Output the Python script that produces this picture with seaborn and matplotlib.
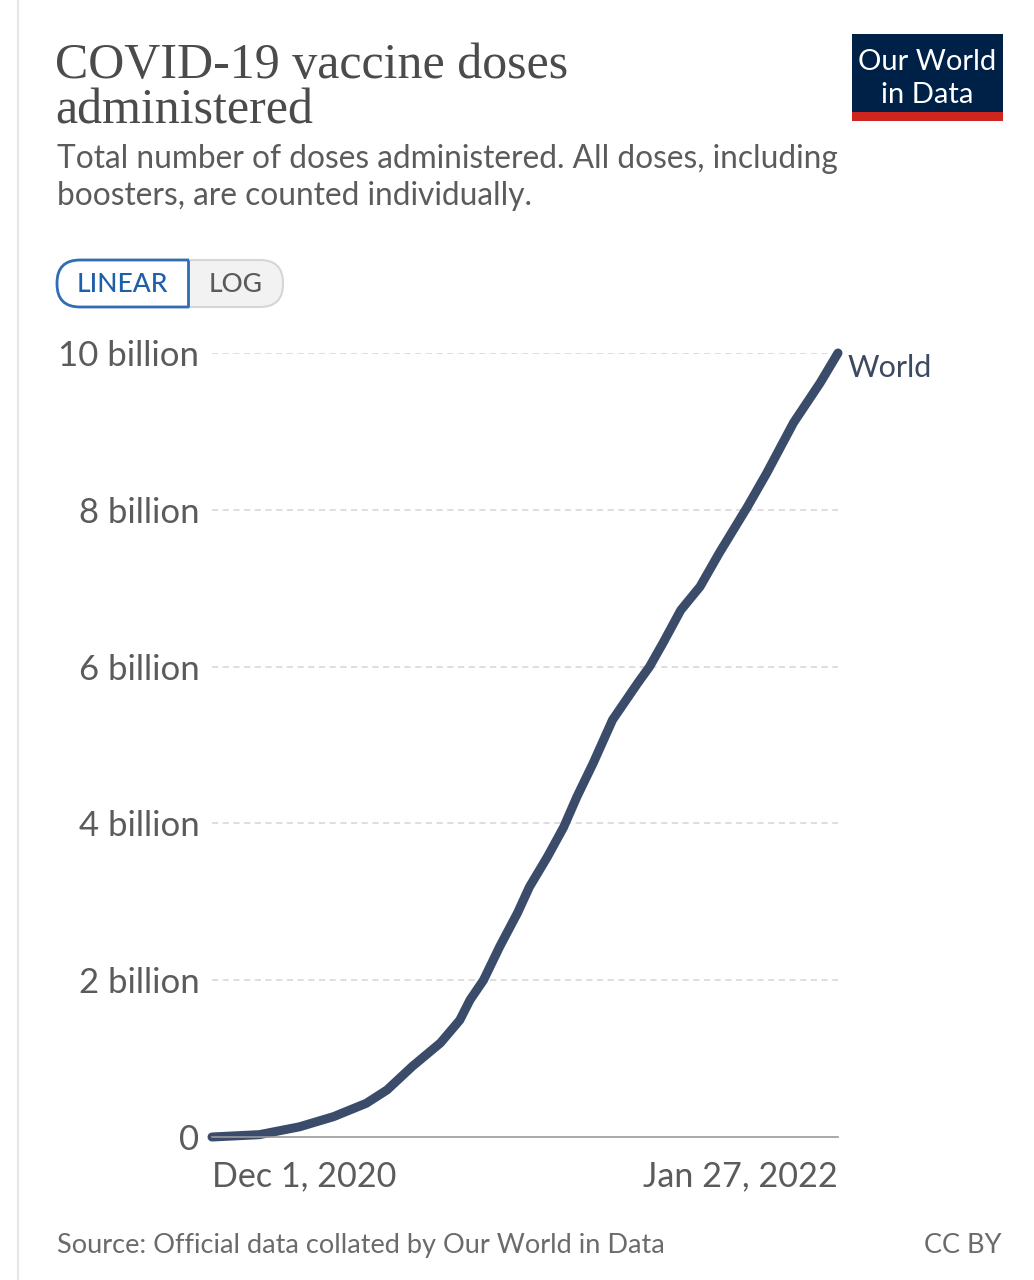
import matplotlib
matplotlib.use("Agg")
import matplotlib.pyplot as plt
import matplotlib.patches as mpatches
import seaborn as sns
import pandas as pd

# ---------------- data ----------------
dates = ["2020-12-01", "2021-01-02", "2021-01-29", "2021-02-21", "2021-03-15",
         "2021-03-29", "2021-04-15", "2021-05-04", "2021-05-17", "2021-05-24",
         "2021-06-02", "2021-06-13", "2021-06-25", "2021-07-03", "2021-07-15",
         "2021-07-26", "2021-08-04", "2021-08-15", "2021-08-28", "2021-09-14",
         "2021-09-22", "2021-10-01", "2021-10-13", "2021-10-26", "2021-11-08",
         "2021-11-27", "2021-12-10", "2021-12-28", "2022-01-15", "2022-01-27"]
doses_billion = [0.0, 0.03, 0.13, 0.26, 0.43,
                 0.60, 0.90, 1.20, 1.49, 1.75,
                 2.00, 2.43, 2.86, 3.19, 3.57,
                 3.95, 4.34, 4.77, 5.32, 5.79,
                 6.00, 6.30, 6.72, 7.02, 7.45,
                 8.04, 8.47, 9.11, 9.62, 10.0]
series_name = "World"
y_ticks_billion = [0, 2, 4, 6, 8, 10]
y_tick_labels = ["0", "2 billion", "4 billion", "6 billion", "8 billion", "10 billion"]
x_tick_dates = ["2020-12-01", "2022-01-27"]
x_tick_labels = ["Dec 1, 2020", "Jan 27, 2022"]

title_lines = ["COVID-19 vaccine doses", "administered"]
subtitle_lines = ["Total number of doses administered. All doses, including",
                  "boosters, are counted individually."]
source_text = "Source: Official data collated by Our World in Data"
license_text = "CC BY"

df = pd.DataFrame({"date": pd.to_datetime(dates),
                   "doses": [v * 1e9 for v in doses_billion]})

# ---------------- style ----------------
sns.set_theme(style="white")
plt.rcParams["font.family"] = ["Lato", "DejaVu Sans"]

W, H = 1034, 1280
fig = plt.figure(figsize=(W / 100, H / 100), dpi=100)
fig.patch.set_facecolor("white")

# background / decoration axes in pixel coordinates
bg = fig.add_axes([0, 0, 1, 1], zorder=0)
bg.set_xlim(0, W)
bg.set_ylim(H, 0)
bg.axis("off")

# faint page edge at left
bg.plot([18, 18], [0, H], color="#e6e6e6", lw=1.5)

grey_text = "#5b5b5b"
line_color = "#3b4c6b"

# Title
bg.text(55, 78, title_lines[0], fontsize=36, family=["Liberation Serif", "DejaVu Serif"],
        color="#4b4b4b", va="baseline", ha="left")
bg.text(55, 124, title_lines[1], fontsize=36, family=["Liberation Serif", "DejaVu Serif"],
        color="#4b4b4b", va="baseline", ha="left")
# Subtitle
bg.text(57, 168, subtitle_lines[0], fontsize=22.8, color=grey_text, va="baseline", ha="left")
bg.text(57, 205, subtitle_lines[1], fontsize=22.8, color=grey_text, va="baseline", ha="left")

# Logo
bg.add_patch(mpatches.Rectangle((852, 34), 151, 79, facecolor="#002147", edgecolor="none"))
bg.add_patch(mpatches.Rectangle((852, 112), 151, 9, facecolor="#ce261e", edgecolor="none"))
bg.text(927, 70, "Our World", fontsize=21, color="white", ha="center", va="baseline")
bg.text(927, 103, "in Data", fontsize=21, color="white", ha="center", va="baseline")

# LINEAR / LOG toggle
pill = mpatches.FancyBboxPatch((57, 260), 226, 47,
                               boxstyle="round,pad=0,rounding_size=23",
                               facecolor="#f2f2f2", edgecolor="#d6d6d6", lw=1.5)
bg.add_patch(pill)
blue = "#2f6db5"
left_pill = mpatches.FancyBboxPatch((57, 260), 226, 47,
                                    boxstyle="round,pad=0,rounding_size=23",
                                    facecolor="white", edgecolor=blue, lw=2)
bg.add_patch(left_pill)
clip_rect = mpatches.Rectangle((40, 250), 148.5, 70, transform=bg.transData,
                               facecolor="none", edgecolor="none")
left_pill.set_clip_path(clip_rect)
bg.plot([188, 188], [260, 307], color=blue, lw=2, solid_capstyle="butt")
bg.text(122, 284, "LINEAR", fontsize=19, color="#1f5ea8", ha="center", va="center",
        fontweight="medium")
bg.text(236, 284, "LOG", fontsize=19, color=grey_text, ha="center", va="center",
        fontweight="medium")

# Footer
bg.text(57, 1253, source_text, fontsize=19.5, color="#6b6b6b", ha="left", va="baseline")
bg.text(1001, 1253, license_text, fontsize=19.5, color="#6b6b6b", ha="right", va="baseline")

# ---------------- main chart ----------------
ax = fig.add_axes([212 / W, (H - 1137) / H, 626 / W, 784 / H], zorder=1)
ax.patch.set_alpha(0)

sns.lineplot(data=df, x="date", y="doses", ax=ax, color=line_color, linewidth=6.5)
for ln in ax.lines:
    ln.set_solid_capstyle("round")
    ln.set_solid_joinstyle("round")
    ln.set_clip_on(False)

ax.set_xlim(pd.Timestamp(x_tick_dates[0]), pd.Timestamp(x_tick_dates[1]))
ax.set_ylim(0, 10e9)

ax.set_yticks([v * 1e9 for v in y_ticks_billion])
ax.set_yticklabels(y_tick_labels)
ax.set_xticks([pd.Timestamp(d) for d in x_tick_dates])
ax.set_xticklabels(x_tick_labels)
ax.set_xlabel("")
ax.set_ylabel("")

ax.tick_params(axis="y", length=0, pad=9, labelsize=25, labelcolor=grey_text)
ax.tick_params(axis="x", length=6, width=1.2, color="#9a9a9a", pad=11,
               labelsize=24.6, labelcolor=grey_text, direction="out")
xl = ax.get_xticklabels()
xl[0].set_ha("left")
xl[1].set_ha("right")

for t in [v * 1e9 for v in y_ticks_billion if v > 0]:
    ax.axhline(t, color="#d5d5d5", lw=1.1, linestyle=(0, (4, 3)), zorder=0.5)

for s in ["left", "right", "top"]:
    ax.spines[s].set_visible(False)
ax.spines["bottom"].set_color("#9a9a9a")
ax.spines["bottom"].set_linewidth(1.2)

# end label
ax.annotate(series_name, xy=(df["date"].iloc[-1], df["doses"].iloc[-1]),
            xytext=(7, -11), textcoords="offset points", fontsize=22,
            color="#3b4a60", ha="left", va="center", annotation_clip=False)

fig.savefig("out.png", dpi=100, facecolor="white")
